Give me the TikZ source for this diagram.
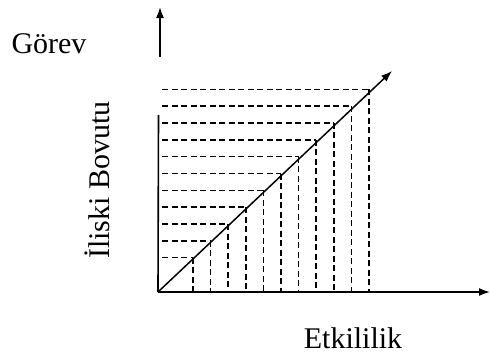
\documentclass[tikz,border=0pt]{standalone}
\usepackage{fontspec}
\setmainfont{Liberation Serif}
\usetikzlibrary{arrows.meta}
\begin{document}
\begin{tikzpicture}[x=1pt,y=-1pt,
  axis/.style={line width=1.6pt,-{Latex[length=11pt,width=8pt]}},
  axisplain/.style={line width=1.6pt},
  guide/.style={line width=1.5pt,dash pattern=on 6pt off 3.5pt},
  lbl/.style={font=\fontsize{30}{32}\selectfont,inner sep=0pt}]
\useasboundingbox (0,0) rectangle (490,354);
% axes
\coordinate (O) at (158,292);
\coordinate (xend) at (490,292);
\coordinate (ylow) at (158.5,115);
\coordinate (yhi) at (160,57);
\coordinate (ytip) at (160,7);
\coordinate (dtip) at (392,71);
\draw[axis] (O) -- (xend);
\draw[axisplain] (O) -- (ylow);
\draw[axis] (yhi) -- (ytip);
\draw[axis,line width=1.5pt] (O) -- (dtip);
% guide lines
\foreach \i in {0,...,10}{
  \coordinate (P\i) at ({193+\i*17.6},{257.7-\i*16.84});
  \coordinate (H\i) at (162,{257.7-\i*16.84});
  \coordinate (V\i) at ({193+\i*17.6},292);
  \draw[guide] (H\i) -- (P\i);
  \draw[guide] (P\i) -- (V\i);
}
% labels
\node[lbl] (gorev) at (49,44) {Görev};
\node[lbl,rotate=90] (iliski) at (97,180) {İliski Bovutu};
\node[lbl] (etk) at (353,338) {Etkililik};
\end{tikzpicture}
\end{document}
